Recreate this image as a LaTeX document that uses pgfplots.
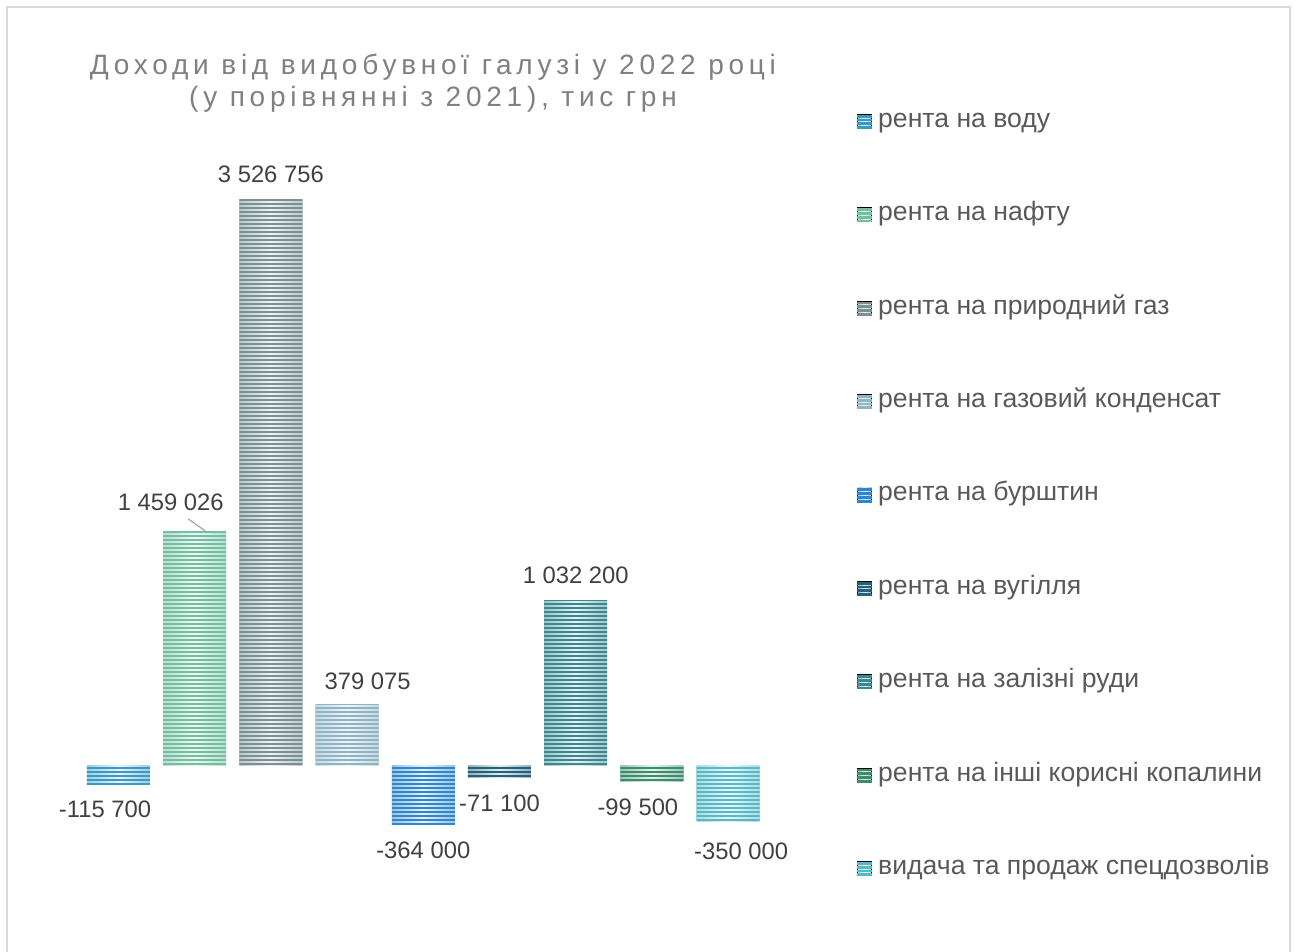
\documentclass[border=0pt]{standalone}
\usepackage{fontspec}
\setmainfont{Liberation Sans}
\newfontfamily\titlefont[LetterSpace=17]{Liberation Sans}
\usepackage{pgfplots}
\pgfplotsset{compat=1.18}
\usetikzlibrary{patterns.meta}
\definecolor{cA}{HTML}{3A9AC6}
\definecolor{cB}{HTML}{74BFA2}
\definecolor{cC}{HTML}{7A9094}
\definecolor{cD}{HTML}{8DB5C3}
\definecolor{cE}{HTML}{2E86CC}
\definecolor{cF}{HTML}{24617A}
\definecolor{cG}{HTML}{3B8891}
\definecolor{cH}{HTML}{3C8C6E}
\definecolor{cI}{HTML}{56B9C5}
\definecolor{labelgray}{HTML}{404040}
\definecolor{legendgray}{HTML}{595959}
\definecolor{titlegray}{HTML}{808080}
\definecolor{bordergray}{HTML}{D9D9D9}
\pgfplotsset{
  shadebar/.style={ybar, bar width=31.5pt, bar shift=0pt, draw=none, forget plot,
    left color=#1!50!white, right color=#1!50!white, middle color=#1!12!white},
  legimg/.style={legend image code/.code={
      \path[left color=#1!50!white, right color=#1!50!white, middle color=#1!12!white] (0pt,-3.5pt) rectangle (7pt,3.5pt);
      \fill[#1] (0pt,-3.5pt) rectangle (7pt,-2.6pt);
      \fill[#1] (0pt,-1.6pt) rectangle (7pt,-0.7pt);
      \fill[#1] (0pt,0.3pt) rectangle (7pt,1.2pt);
      \fill[#1] (0pt,2.2pt) rectangle (7pt,3.1pt);}},
  stripes/.style={ybar, bar width=31.5pt, bar shift=0pt, draw=none, forget plot,
    pattern={Lines[angle=0,distance=2pt,line width=0.95pt]}, pattern color=#1},
  lbl/.style n args={3}{nodes near coords={#1},
    every node near coord/.append style={anchor=center, xshift=#2, yshift=#3,
      font=\fontsize{11.9pt}{13pt}\selectfont, text=labelgray}},
}
\begin{document}
\begin{tikzpicture}
\useasboundingbox (0,0) rectangle (649pt,476pt);
\draw[bordergray, line width=1pt] (3.5pt,-2pt) -- (3.5pt,472.5pt) -- (645pt,472.5pt) -- (645pt,-2pt);
\node[font=\titlefont\fontsize{14pt}{16pt}\selectfont, text=titlegray, align=center] at (216.5pt,434.5pt)
  {Доходи від видобувної галузі у 2022 році\\(у порівнянні з 2021), тис грн};
\begin{axis}[
  at={(40.2pt,53pt)}, anchor=south west,
  width=342.9pt, height=329pt, scale only axis,
  hide axis, clip=false,
  xmin=-0.5, xmax=8.5, ymin=-500000, ymax=3600000,
  legend style={at={(1.1324,1.1201)}, anchor=north west, draw=none, fill=none,
    inner sep=0pt, row sep=34.7pt,
    nodes={inner sep=0pt, text height=9pt, text depth=3pt, font=\fontsize{13.3pt}{15pt}\selectfont, text=legendgray},
    /tikz/every odd column/.append style={column sep=3pt}},
  legend cell align=left,
]
\addplot[shadebar=cA, lbl={-115 700}{-6.75pt}{-12.5pt}] coordinates {(0,-115700)};
\addplot[shadebar=cB, lbl={1 459 026}{-12pt}{14.5pt}] coordinates {(1,1459026)};
\addplot[shadebar=cC, lbl={3 526 756}{0pt}{12.5pt}] coordinates {(2,3526756)};
\addplot[shadebar=cD, lbl={379 075}{10.25pt}{12pt}] coordinates {(3,379075)};
\addplot[shadebar=cE, lbl={-364 000}{0pt}{-13pt}] coordinates {(4,-364000)};
\addplot[shadebar=cF, lbl={-71 100}{0pt}{-13pt}] coordinates {(5,-71100)};
\addplot[shadebar=cG, lbl={1 032 200}{0pt}{12.5pt}] coordinates {(6,1032200)};
\addplot[shadebar=cH, lbl={-99 500}{-7pt}{-13pt}] coordinates {(7,-99500)};
\addplot[shadebar=cI, lbl={-350 000}{6.5pt}{-14.5pt}] coordinates {(8,-350000)};
\addplot[stripes=cA] coordinates {(0,-115700)};
\addplot[stripes=cB] coordinates {(1,1459026)};
\addplot[stripes=cC] coordinates {(2,3526756)};
\addplot[stripes=cD] coordinates {(3,379075)};
\addplot[stripes=cE] coordinates {(4,-364000)};
\addplot[stripes=cF] coordinates {(5,-71100)};
\addplot[stripes=cG] coordinates {(6,1032200)};
\addplot[stripes=cH] coordinates {(7,-99500)};
\addplot[stripes=cI] coordinates {(8,-350000)};
\addlegendimage{legimg=cA}\addlegendentry{рента на воду}
\addlegendimage{legimg=cB}\addlegendentry{рента на нафту}
\addlegendimage{legimg=cC}\addlegendentry{рента на природний газ}
\addlegendimage{legimg=cD}\addlegendentry{рента на газовий конденсат}
\addlegendimage{legimg=cE}\addlegendentry{рента на бурштин}
\addlegendimage{legimg=cF}\addlegendentry{рента на вугілля}
\addlegendimage{legimg=cG}\addlegendentry{рента на залізні руди}
\addlegendimage{legimg=cH}\addlegendentry{рента на інші корисні копалини}
\addlegendimage{legimg=cI}\addlegendentry{видача та продаж спецдозволів}
\draw[gray!70, line width=0.6pt] (axis cs:0.912,1539000) -- (axis cs:1.135,1464000);
\end{axis}
\end{tikzpicture}
\end{document}
